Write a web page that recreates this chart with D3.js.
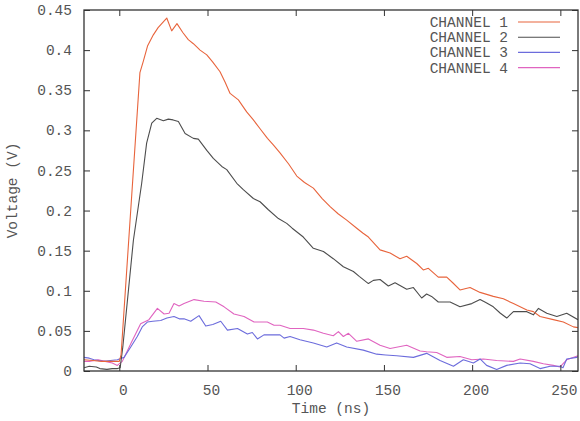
<!DOCTYPE html>
<html>
<head>
<meta charset="utf-8">
<script src="https://cdn.jsdelivr.net/npm/d3@7"></script>
<style>
  html, body { margin: 0; padding: 0; background: #fff; }
  svg { display: block; }
  text { font-family: "Liberation Mono", "DejaVu Sans Mono", monospace; fill: #555; }
</style>
</head>
<body>
<svg id="chart" width="580" height="421"></svg>
<script>
// Oscilloscope readout: voltage on four channels vs. time, [time ns, volts]
const channel1 = [[-20,0.014],[-15,0.013],[-10,0.012],[-5,0.012],[0,0.012],[1,0.02],[11.7,0.372],[13.6,0.386],[16,0.405],[19.3,0.419],[22,0.428],[26.9,0.44],[29.7,0.424],[32.7,0.433],[36,0.422],[39.1,0.413],[42,0.408],[45.8,0.4],[49.6,0.394],[53,0.385],[57.1,0.373],[60,0.36],[62.8,0.346],[67.5,0.338],[72.2,0.323],[76,0.313],[79.8,0.302],[84,0.29],[87.3,0.282],[91.1,0.272],[96,0.258],[100.6,0.243],[105,0.235],[110,0.228],[115,0.215],[119.5,0.205],[124,0.196],[128.9,0.188],[134.6,0.178],[138,0.172],[141.2,0.167],[147.8,0.151],[153.5,0.147],[159.1,0.14],[162.9,0.143],[168.6,0.134],[172.3,0.126],[175.2,0.128],[180.8,0.117],[185.6,0.117],[189,0.11],[193.1,0.101],[198.8,0.104],[204.5,0.098],[212,0.093],[217.7,0.09],[223.4,0.084],[231,0.076],[234.7,0.074],[238.5,0.068],[246,0.064],[251.7,0.061],[257.4,0.055],[260,0.054]];
const channel2 = [[-20,0.004],[-17,0.006],[-13,0.005],[-11,0.003],[-7,0.002],[-4,0.003],[-1,0.003],[0.5,0.004],[2,0.03],[8,0.163],[12.7,0.234],[15.5,0.284],[18.4,0.309],[21.2,0.315],[25,0.312],[27.8,0.314],[30.5,0.313],[33.5,0.311],[37.3,0.296],[42,0.29],[44.8,0.289],[49.6,0.275],[53.3,0.265],[58.1,0.255],[60.9,0.251],[66.6,0.234],[70.3,0.226],[76,0.215],[79.8,0.211],[84.5,0.201],[90.2,0.19],[94.9,0.184],[98,0.178],[104.3,0.167],[110,0.153],[115.7,0.149],[121.3,0.14],[127,0.13],[132.7,0.124],[136,0.118],[141.2,0.109],[144,0.113],[147.8,0.114],[152.5,0.106],[156.3,0.11],[162.9,0.102],[166.7,0.104],[171.4,0.091],[174.2,0.096],[177,0.093],[180.8,0.086],[187.5,0.086],[193.1,0.08],[199.8,0.084],[204.5,0.089],[208,0.085],[212,0.08],[216,0.072],[219.6,0.066],[223.4,0.074],[231,0.074],[234.7,0.07],[237.6,0.078],[242.3,0.072],[248,0.068],[253.6,0.072],[260,0.064]];
const channel3 = [[-20,0.017],[-17,0.016],[-14.3,0.014],[-9,0.012],[-5,0.013],[-1.1,0.014],[2.7,0.017],[6.5,0.03],[10.2,0.043],[13,0.055],[15.9,0.061],[19,0.062],[23.5,0.063],[27,0.066],[31,0.068],[34,0.065],[36.7,0.065],[40.5,0.062],[45.2,0.069],[49,0.056],[53,0.058],[57.5,0.062],[61.3,0.051],[67,0.053],[72.6,0.046],[75.4,0.048],[78.3,0.04],[82,0.045],[87.7,0.045],[91.1,0.045],[93.4,0.041],[96.8,0.043],[102.4,0.039],[110,0.035],[117.6,0.03],[123.2,0.035],[128.9,0.03],[138.3,0.026],[145.9,0.021],[151,0.02],[157.2,0.019],[166.7,0.017],[174.2,0.022],[181.8,0.013],[189.4,0.006],[195,0.014],[200.7,0.01],[204.5,0.015],[208.2,0.007],[213.9,0.002],[219.6,0.007],[227.2,0.01],[232.8,0.009],[238.5,0.003],[244.2,0.006],[249.8,0.006],[251.5,0.004],[253.6,0.015],[259.3,0.017],[260,0.018]];
const channel4 = [[-20,0.012],[-17,0.012],[-12,0.014],[-8,0.012],[-4,0.01],[-1.1,0.007],[1.7,0.012],[6.5,0.034],[12.1,0.059],[16.8,0.064],[21.6,0.078],[25.4,0.071],[28.2,0.072],[31,0.084],[33.9,0.081],[36.7,0.084],[42.4,0.089],[48,0.087],[54.7,0.086],[59.4,0.08],[65,0.071],[70.7,0.068],[76.4,0.061],[83.9,0.061],[87.7,0.057],[91.1,0.057],[96.8,0.053],[104.3,0.053],[110,0.051],[115.7,0.047],[121.3,0.044],[124.2,0.049],[127,0.043],[129.9,0.047],[134.6,0.037],[141.2,0.04],[147.8,0.032],[153.5,0.028],[162.9,0.032],[170.5,0.025],[174.2,0.024],[179.9,0.023],[185.6,0.017],[193.1,0.018],[199.8,0.014],[206.4,0.015],[213.9,0.013],[223.4,0.012],[227.2,0.015],[234.7,0.012],[240.4,0.009],[246,0.007],[249.8,0.005],[253.6,0.014],[260,0.019]];

const seriesNames = ["CHANNEL 1", "CHANNEL 2", "CHANNEL 3", "CHANNEL 4"];
const seriesColors = ["#e8643c", "#4d4d4d", "#6c6cdc", "#e064c0"];
const xTicks = [0, 50, 100, 150, 200, 250];
const yTicks = [0, 0.05, 0.1, 0.15, 0.2, 0.25, 0.3, 0.35, 0.4, 0.45];
const xDomain = [-20, 260];
const yDomain = [0, 0.45];

const svg = d3.select("#chart");
const margin = { left: 84, top: 10, right: 2, bottom: 50 };
const width = 580 - margin.left - margin.right;
const height = 421 - margin.top - margin.bottom;

const x = d3.scaleLinear().domain(xDomain).range([0, width]);
const y = d3.scaleLinear().domain(yDomain).range([height, 0]);

const g = svg.append("g").attr("transform", `translate(${margin.left},${margin.top})`);

// clip the traces to the frame
g.append("clipPath").attr("id", "plotClip")
  .append("rect").attr("width", width).attr("height", height);

const line = d3.line().x(d => x(d[0])).y(d => y(d[1]));
const allSeries = [channel1, channel2, channel3, channel4];

// traces drawn back to front
[3, 2, 1, 0].forEach(i => {
  g.append("path")
    .datum(allSeries[i])
    .attr("clip-path", "url(#plotClip)")
    .attr("fill", "none")
    .attr("stroke", seriesColors[i])
    .attr("stroke-width", 1.1)
    .attr("stroke-linejoin", "round")
    .attr("d", line);
});

// inward ticks on all four sides (gnuplot style)
const tickLen = 6;
const axisStyle = sel => {
  sel.select(".domain").remove();
  sel.selectAll(".tick line").attr("stroke", "#333").attr("stroke-width", 1);
};
const fmtY = d => d === 0 ? "0" : d3.format("")(+d.toFixed(2));

g.append("g").attr("transform", `translate(0,${height})`)
  .call(d3.axisBottom(x).tickValues(xTicks).tickSizeInner(-tickLen).tickPadding(14).tickFormat(d3.format("d")))
  .call(axisStyle)
  .call(s => s.selectAll("text").attr("font-size", 14.5).attr("fill", "#555")
    .attr("font-family", "Liberation Mono").attr("dx", 3.5));

g.append("g")
  .call(d3.axisTop(x).tickValues(xTicks).tickSizeInner(-tickLen).tickFormat(""))
  .call(axisStyle);

g.append("g")
  .call(d3.axisLeft(y).tickValues(yTicks).tickSizeInner(-tickLen).tickPadding(12).tickFormat(fmtY))
  .call(axisStyle)
  .call(s => s.selectAll("text").attr("font-size", 14.5).attr("fill", "#555").attr("font-family", "Liberation Mono"));

g.append("g").attr("transform", `translate(${width},0)`)
  .call(d3.axisRight(y).tickValues(yTicks).tickSizeInner(-tickLen).tickFormat(""))
  .call(axisStyle);

// frame
g.append("rect")
  .attr("width", width).attr("height", height)
  .attr("fill", "none").attr("stroke", "#333").attr("stroke-width", 1.3);

// axis titles
svg.append("text")
  .attr("x", margin.left + width / 2).attr("y", 413)
  .attr("text-anchor", "middle").attr("font-size", 14.5)
  .text("Time (ns)");

svg.append("text")
  .attr("transform", `translate(17,${margin.top + height / 2}) rotate(-90)`)
  .attr("text-anchor", "middle").attr("font-size", 14.5)
  .text("Voltage (V)");

// legend, top right inside the frame
const legend = g.append("g").attr("transform", `translate(${width},0)`);
seriesNames.forEach((name, i) => {
  const yy = 12 + i * 15.2;
  legend.append("text")
    .attr("x", -70).attr("y", yy).attr("dy", "0.35em")
    .attr("text-anchor", "end").attr("font-size", 14.5)
    .text(name);
  legend.append("line")
    .attr("x1", -60).attr("x2", -18).attr("y1", yy).attr("y2", yy)
    .attr("stroke", seriesColors[i]).attr("stroke-width", 1.1);
});
</script>
</body>
</html>
